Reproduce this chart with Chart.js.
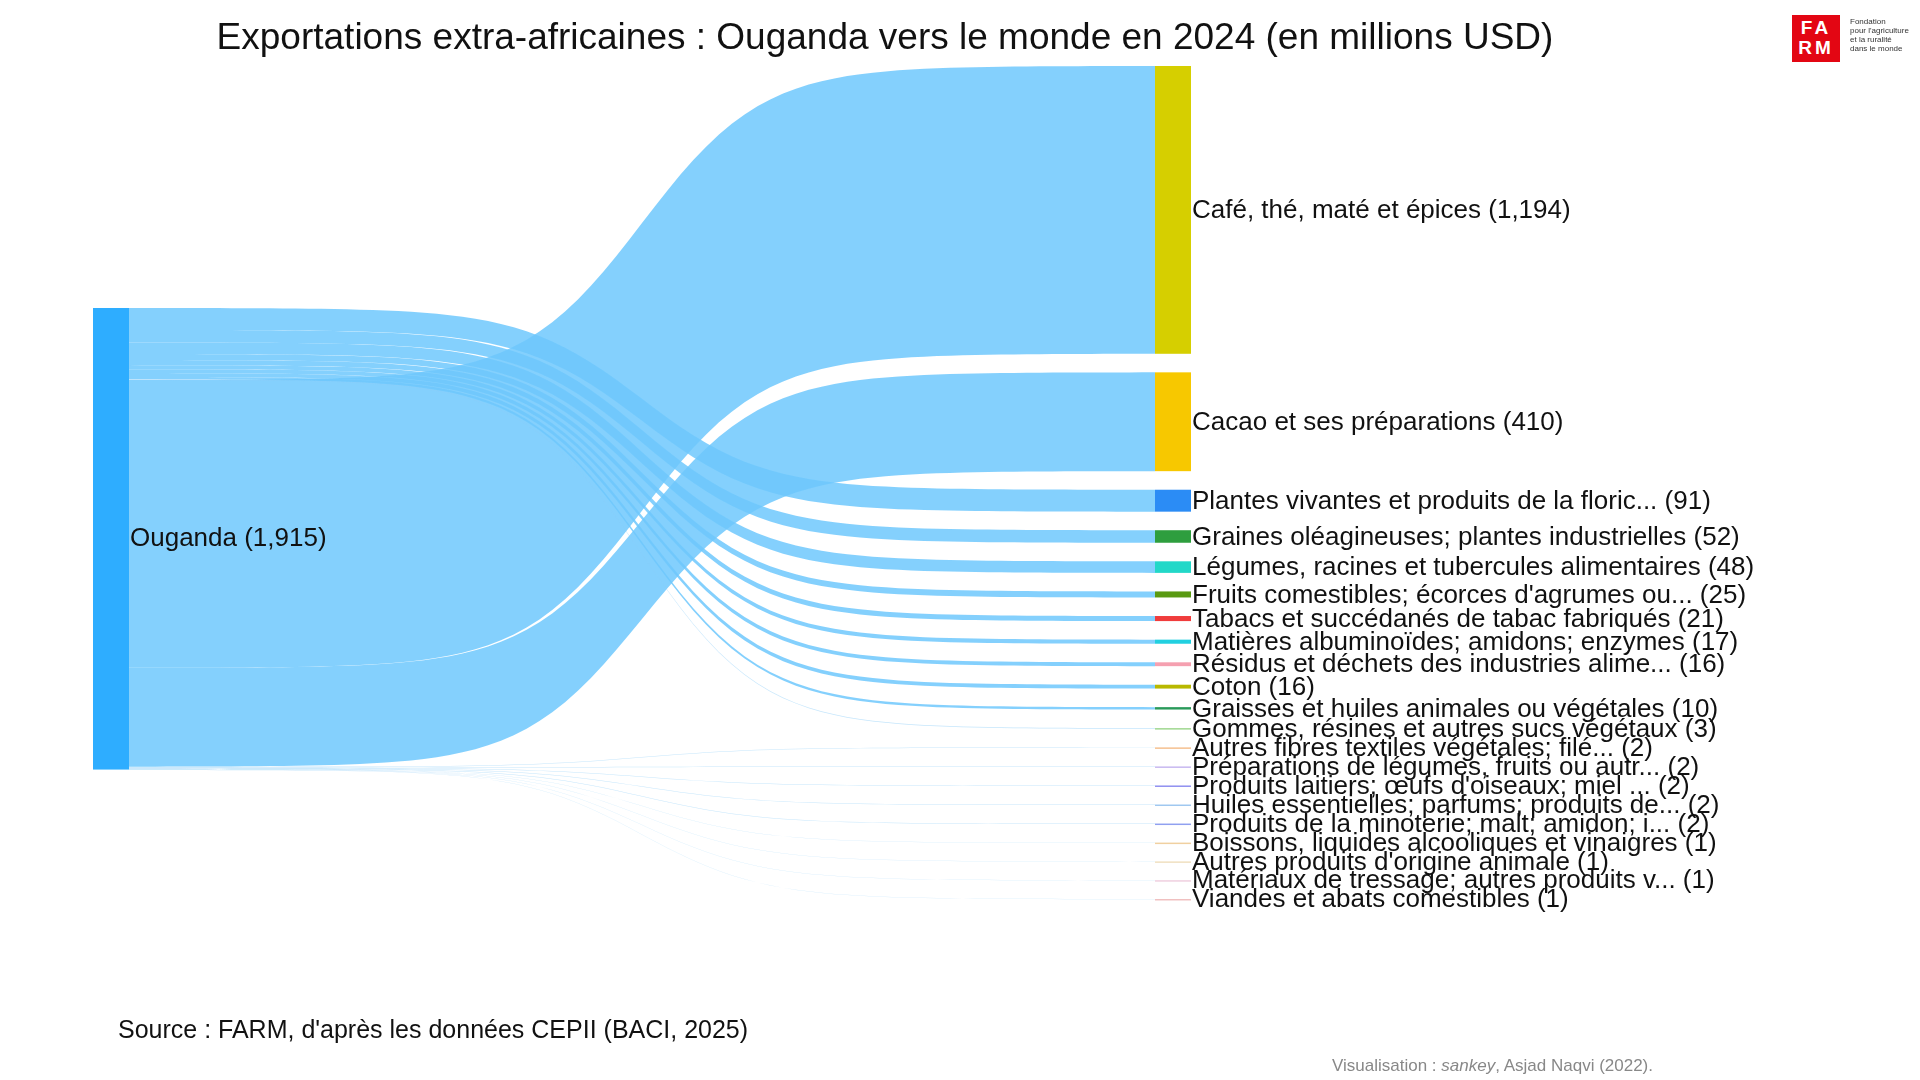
<!DOCTYPE html>
<html><head><meta charset="utf-8">
<script src="https://cdn.jsdelivr.net/npm/chart.js@4"></script>
<style>
body{margin:0;width:1920px;height:1080px;background:#fff;font-family:"Liberation Sans",Arial,sans-serif;overflow:hidden}
#wrap{position:absolute;left:0;top:0;width:1920px;height:1080px}
#title{position:absolute;top:16px;left:0;width:1770px;text-align:center;font-size:37px;color:#111}
#source{position:absolute;left:118px;top:1015px;font-size:25px;color:#111}
#vis{position:absolute;left:1332px;top:1056px;font-size:17px;color:#888}
#logo{position:absolute;left:1792px;top:15px;width:48px;height:47px;background:#e30613;color:#fff;font-weight:bold;font-size:19px;line-height:20px;text-align:center;padding-top:3px;box-sizing:border-box;letter-spacing:3px}
#logotxt{position:absolute;left:1850px;top:17px;font-size:8px;line-height:9px;color:#333}
</style></head><body>
<div id="wrap"><canvas id="c"></canvas></div>
<div id="title">Exportations extra-africaines : Ouganda vers le monde en 2024 (en millions USD)</div>
<div id="source">Source : FARM, d'après les données CEPII (BACI, 2025)</div>
<div id="vis">Visualisation : <i>sankey</i>, Asjad Naqvi (2022).</div>
<div id="logo">FA<br>RM</div>
<div id="logotxt">Fondation<br>pour l'agriculture<br>et la ruralité<br>dans le monde</div>
<script>
const sourceName = 'Ouganda';
const sourceTotal = 1915;
const categories = [
  'Café, thé, maté et épices', 'Cacao et ses préparations', 'Plantes vivantes et produits de la floric...',
  'Graines oléagineuses; plantes industrielles', 'Légumes, racines et tubercules alimentaires',
  "Fruits comestibles; écorces d'agrumes ou...", 'Tabacs et succédanés de tabac fabriqués',
  'Matières albuminoïdes; amidons; enzymes', 'Résidus et déchets des industries alime...',
  'Coton', 'Graisses et huiles animales ou végétales', 'Gommes, résines et autres sucs végétaux',
  'Autres fibres textiles végétales; filé...', 'Préparations de légumes, fruits ou autr...',
  "Produits laitiers; œufs d'oiseaux; miel ...", 'Huiles essentielles; parfums; produits de...',
  'Produits de la minoterie; malt; amidon; i...', 'Boissons, liquides alcooliques et vinaigres',
  "Autres produits d'origine animale", 'Matériaux de tressage; autres produits v...',
  'Viandes et abats comestibles'
];
const values = [1194, 410, 91, 52, 48, 25, 21, 17, 16, 16, 10, 3, 2, 2, 2, 2, 2, 1, 1, 1, 1];
const nodeColors = ['#d6cf00','#f7c800','#2b8cf5','#2e9e3e','#22d8c8','#5a9a12','#f03c3c','#22d0e0',
  '#f5a0b0','#b8b800','#2a9a5a','#a0d890','#f5c090','#c8b8f0','#9090f0','#a0c8f0','#90a0f0',
  '#f0d0a0','#f0e0c0','#f0d0e0','#f0c0c0'];
// order of outgoing flows on the source node (indexes into categories)
const sourceOrder = [2,3,4,5,6,7,8,9,10,11,0,1,12,13,14,15,16,17,18,19,20];

const gap = 77, leftTop = 1004;
const nodeLeft = [93, 129], nodeRight = [1155, 1191];

function ease(t) {
  const k = 17, s = x => 1 / (1 + Math.exp(-k * (x - 0.5)));
  return (s(t) - s(0)) / (s(1) - s(0));
}

const sankeyPlugin = {
  id: 'sankey',
  afterDatasetsDraw(chart) {
    const ctx = chart.ctx, xs = chart.scales.x, ys = chart.scales.y;
    const rTop = []; let acc = 0;
    values.forEach((v, i) => { rTop[i] = acc; acc += v + gap; });
    const lTop = []; acc = leftTop;
    sourceOrder.forEach(i => { lTop[i] = acc; acc += values[i]; });
    const xa = xs.getPixelForValue(nodeLeft[1]), xb = xs.getPixelForValue(nodeRight[0]);
    const N = 80;
    values.forEach((v, i) => {
      const a0 = ys.getPixelForValue(lTop[i]), a1 = ys.getPixelForValue(lTop[i] + v);
      const b0 = ys.getPixelForValue(rTop[i]), b1 = ys.getPixelForValue(rTop[i] + v);
      ctx.beginPath();
      for (let j = 0; j <= N; j++) {
        const t = j / N, e = ease(t);
        ctx.lineTo(xa + (xb - xa) * t, a0 + (b0 - a0) * e);
      }
      for (let j = N; j >= 0; j--) {
        const t = j / N, e = ease(t);
        ctx.lineTo(xa + (xb - xa) * t, a1 + (b1 - a1) * e);
      }
      ctx.closePath();
      ctx.fillStyle = v > 5 ? 'rgba(110,200,253,0.85)' : 'rgba(140,205,250,0.5)';
      ctx.fill();
    });
    const sx0 = xs.getPixelForValue(nodeLeft[0]), sx1 = xa;
    ctx.fillStyle = '#2eadff';
    ctx.fillRect(sx0, ys.getPixelForValue(leftTop), sx1 - sx0, ys.getPixelForValue(leftTop + sourceTotal) - ys.getPixelForValue(leftTop));
    ctx.font = '26px "Liberation Sans", Arial, sans-serif';
    ctx.textBaseline = 'middle';
    ctx.fillStyle = '#111';
    ctx.fillText(sourceName + ' (' + sourceTotal.toLocaleString('en-US') + ')', sx1 + 1, ys.getPixelForValue(leftTop + sourceTotal / 2));
    const tx1 = xs.getPixelForValue(nodeRight[1]);
    values.forEach((v, i) => {
      const y0 = ys.getPixelForValue(rTop[i]), y1 = ys.getPixelForValue(rTop[i] + v);
      ctx.fillStyle = nodeColors[i];
      ctx.fillRect(xb, y0, tx1 - xb, Math.max(y1 - y0, 1.5));
      ctx.fillStyle = '#111';
      ctx.fillText(categories[i] + ' (' + v.toLocaleString('en-US') + ')', tx1 + 1, (y0 + y1) / 2 + 1);
    });
  }
};

new Chart(document.getElementById('c'), {
  type: 'scatter',
  data: { datasets: [{ data: [] }] },
  options: {
    responsive: true, maintainAspectRatio: false, animation: false,
    layout: { padding: { top: 66, left: 0, right: 0, bottom: 0 } },
    plugins: { legend: { display: false }, tooltip: { enabled: false } },
    scales: {
      x: { type: 'linear', min: 0, max: 1920, display: false },
      y: { type: 'linear', min: 0, max: 4207, reverse: true, display: false }
    }
  },
  plugins: [sankeyPlugin]
});
</script>
</body></html>
